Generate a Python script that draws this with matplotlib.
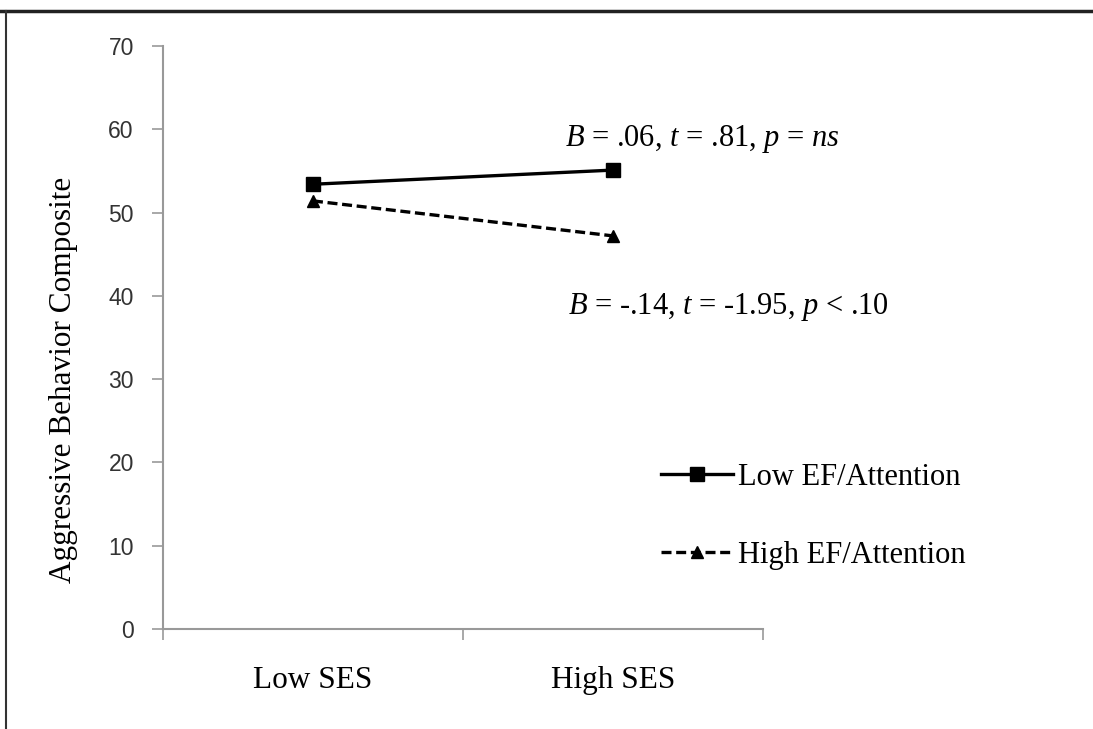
import matplotlib
matplotlib.use('Agg')
import matplotlib.pyplot as plt
from matplotlib.lines import Line2D

# data
ses_levels = ['Low SES', 'High SES']
low_ef = [53.4, 55.1]
high_ef = [51.4, 47.2]
series_labels = ['Low EF/Attention', 'High EF/Attention']
note_low = r'$B$ = .06, $t$ = .81, $p$ = $ns$'
note_high = r'$B$ = -.14, $t$ = -1.95, $p$ < .10'
y_ticks = [0, 10, 20, 30, 40, 50, 60, 70]

plt.rcParams['font.family'] = 'Liberation Serif'
plt.rcParams['mathtext.fontset'] = 'custom'
plt.rcParams['mathtext.rm'] = 'Liberation Serif'
plt.rcParams['mathtext.it'] = 'Liberation Serif:italic'

fig = plt.figure(figsize=(10.93, 7.29), dpi=100)
ax = fig.add_axes([0.1491, 0.1372, 0.5489, 0.7997])

x = [0.5, 1.5]
ax.plot(x, low_ef, color='black', lw=2.4, marker='s', ms=10)
ax.plot(x, high_ef, color='black', lw=2.4, ls=(0, (3, 1.4)), marker='^', ms=9)

ax.set_xlim(0, 2)
ax.set_ylim(0, 70)
ax.set_yticks(y_ticks)
ax.set_yticklabels([str(v) for v in y_ticks], family='Liberation Sans', fontsize=16.5, color='#333333')
ax.set_xticks([0, 1, 2])
ax.set_xticklabels([])
ax.set_xticks(x, minor=True)
ax.set_xticklabels(ses_levels, minor=True, fontsize=22.5)
ax.tick_params(axis='x', which='minor', length=0, pad=27)
ax.tick_params(axis='x', which='major', length=8, color='#999999', width=1.2)
ax.tick_params(axis='y', length=8, color='#999999', width=1.2, pad=13)

for s in ['top', 'right']:
    ax.spines[s].set_visible(False)
for s in ['left', 'bottom']:
    ax.spines[s].set_color('#999999')
    ax.spines[s].set_linewidth(1.5)

ax.set_ylabel('Aggressive Behavior Composite', fontsize=22.5)
ax.yaxis.set_label_coords(-0.142, 0.427)

ax.text(1.34, 58.8, note_low, fontsize=22, ha='left', va='center')
ax.text(1.35, 38.7, note_high, fontsize=22, ha='left', va='center')

handles = [Line2D([], [], color='black', lw=2.4, marker='s', ms=10),
           Line2D([], [], color='black', lw=2.4, ls=(0, (3, 1.4)), marker='^', ms=9)]
fig.legend(handles, series_labels, loc='center left', bbox_to_anchor=(0.58, 0.292),
           frameon=False, fontsize=22, handlelength=2.35, handletextpad=0.15,
           labelspacing=1.6)

# frame lines of the original image
fig.add_artist(Line2D([0, 1], [0.985, 0.985], color='#222222', lw=2.5, transform=fig.transFigure))
fig.add_artist(Line2D([0.0055, 0.0055], [0, 0.985], color='#333333', lw=1.5, transform=fig.transFigure))

fig.savefig('out.png', dpi=100)
